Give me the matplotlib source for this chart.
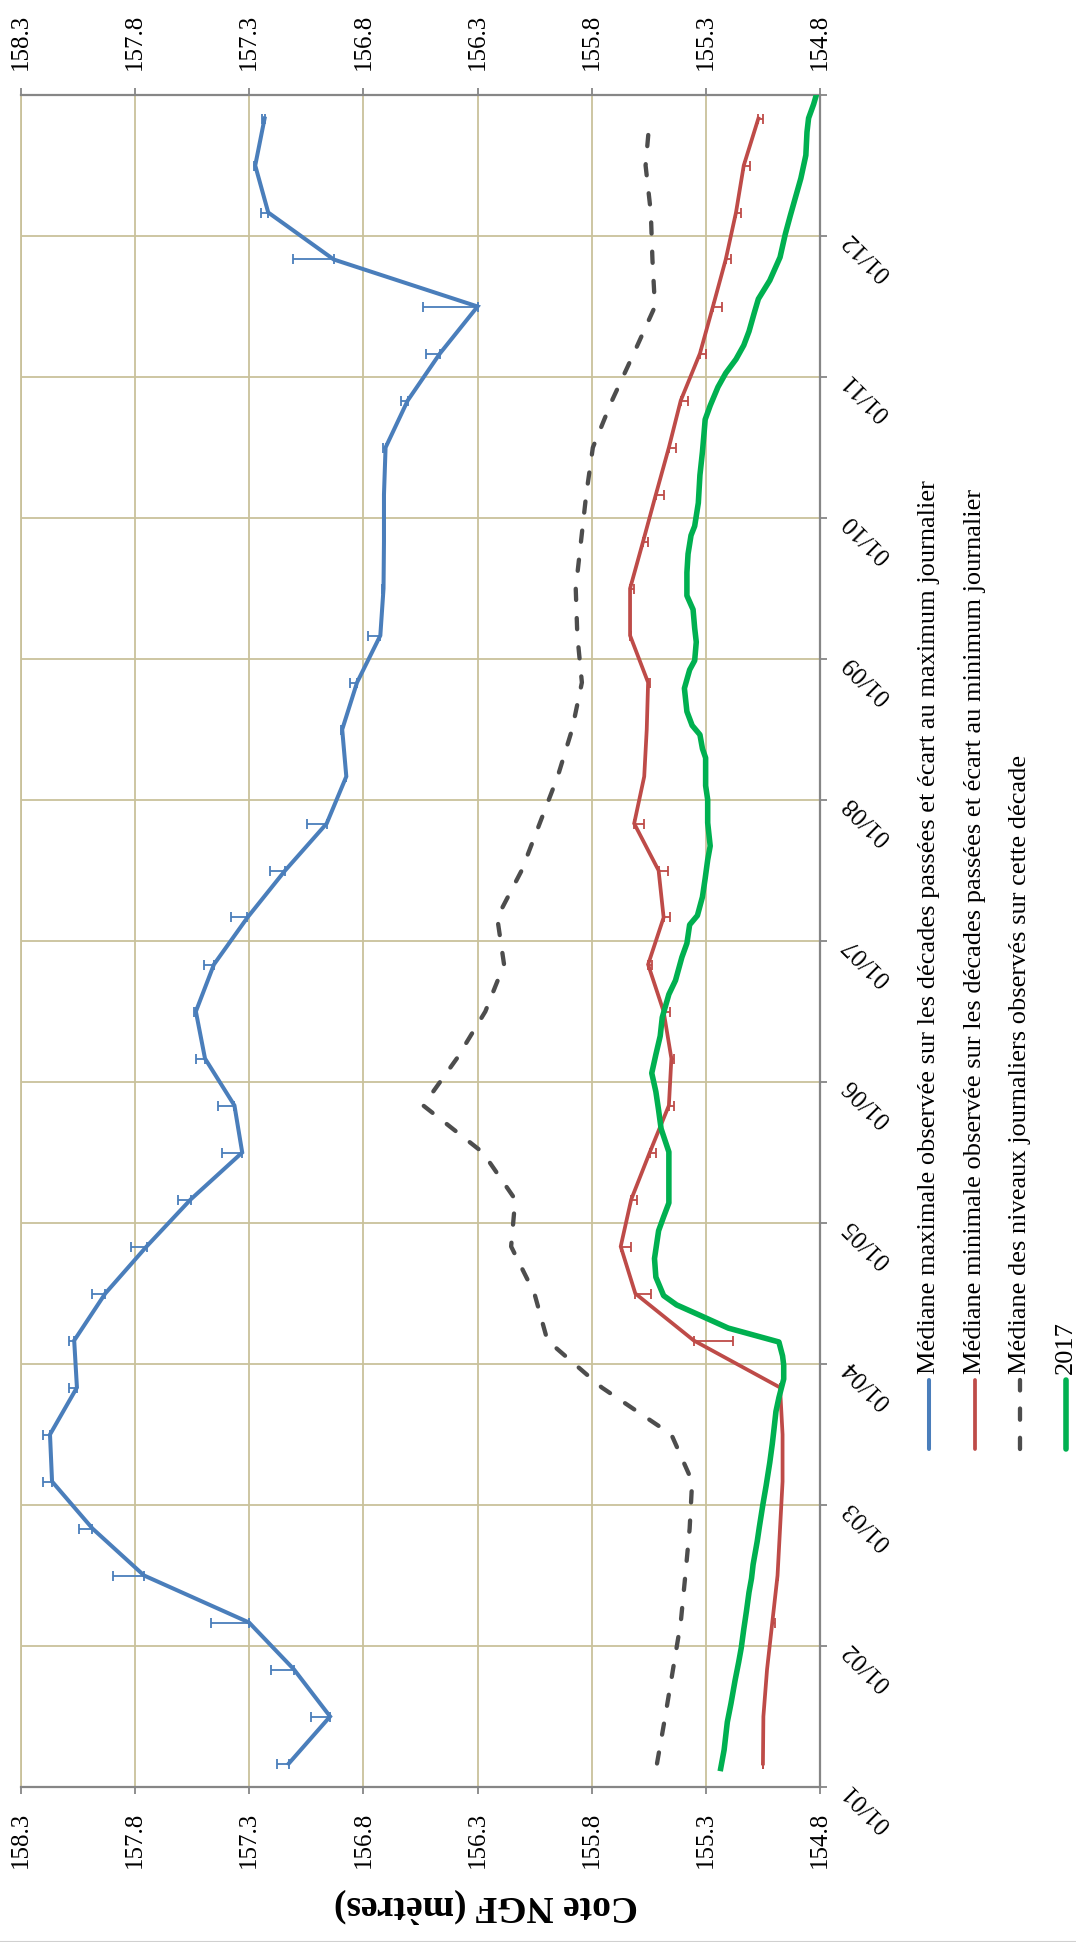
import numpy as np
import matplotlib
matplotlib.use("Agg")
import matplotlib.pyplot as plt
from matplotlib.lines import Line2D

plt.rcParams['font.family'] = ['Liberation Serif', 'DejaVu Serif']

W, H = 1076, 1942

# tick labels for the date axis (one per month)
month_labels = ['01/01', '01/02', '01/03', '01/04', '01/05', '01/06',
                '01/07', '01/08', '01/09', '01/10', '01/11', '01/12']
level_ticks = [154.8, 155.3, 155.8, 156.3, 156.8, 157.3, 157.8, 158.3]

# median of the daily maximum, per decade (36 decades)
med_max = [157.127, 156.946, 157.104, 157.301, 157.761, 157.987, 158.164, 158.173,
           158.055, 158.067, 157.931, 157.750, 157.557, 157.331, 157.365, 157.494,
           157.534, 157.455, 157.308, 157.143, 156.961, 156.875, 156.893, 156.828,
           156.726, 156.712, 156.710, 156.710, 156.703, 156.606, 156.465, 156.300,
           156.930, 157.217, 157.274, 157.233]
err_max = [0.052, 0.084, 0.10, 0.165, 0.136, 0.057, 0.04, 0.03, 0.034, 0.023, 0.057, 0.068,
           0.057, 0.09, 0.07, 0.04, 0.007, 0.045, 0.07, 0.065, 0.085, 0.0, 0.005, 0.03,
           0.055, 0.005, 0.005, 0.0, 0.01, 0.03, 0.06, 0.24, 0.18, 0.03, 0.005, 0.01]

# median of the daily minimum, per decade
med_min = [155.050, 155.048, 155.032, 155.009, 154.986, 154.975, 154.964, 154.964,
           154.975, 155.353, 155.609, 155.673, 155.627, 155.546, 155.462, 155.451,
           155.485, 155.553, 155.485, 155.507, 155.614, 155.570, 155.559, 155.553,
           155.632, 155.632, 155.575, 155.519, 155.462, 155.410, 155.326, 155.269,
           155.213, 155.168, 155.134, 155.070]
err_min = [0.0, 0.0, 0.0, 0.011, 0.0, 0.0, 0.0, 0.0, 0.0, 0.17, 0.068, 0.045,
           0.025, 0.027, 0.023, 0.011, 0.027, 0.016, 0.03, 0.04, 0.045, 0.0, 0.0, 0.01,
           0.005, 0.018, 0.023, 0.034, 0.03, 0.03, 0.027, 0.04, 0.023, 0.023, 0.027, 0.02]

# median of daily levels, per decade
med_day = [155.514, 155.478, 155.444, 155.410, 155.390, 155.371, 155.360, 155.451,
           155.756, 155.994, 156.051, 156.153, 156.135, 156.277, 156.538, 156.391,
           156.266, 156.184, 156.214, 156.107, 156.028, 155.949, 155.886, 155.843,
           155.863, 155.870, 155.847, 155.824, 155.795, 155.711, 155.616, 155.523,
           155.534, 155.541, 155.564, 155.546]

# 2017 daily levels (day of year, level)
y2017_day = [4, 8, 14, 18, 23, 27, 30, 34, 38, 42, 45, 48, 53, 56, 61, 65, 70, 74, 77, 81,
             84, 88, 91, 93, 96, 97, 99, 102, 104, 106, 110, 114, 120, 123, 126, 134, 137,
             142, 146, 150, 154, 158, 162, 166, 171, 174, 179, 182, 186, 188, 192, 196,
             200, 203, 208, 213, 216, 222, 224, 227, 229, 232, 237, 241, 243, 247, 250,
             254, 257, 262, 266, 270, 272, 277, 283, 288, 292, 295, 298, 302, 305, 308,
             311, 314, 318, 321, 325, 330, 335, 339, 343, 347, 352, 357, 360, 363, 365]
y2017_lvl = [155.235, 155.220, 155.206, 155.190, 155.172, 155.156, 155.145, 155.134,
             155.122, 155.111, 155.100, 155.093, 155.075, 155.066, 155.050, 155.036,
             155.020, 155.009, 155.002, 154.993, 154.980, 154.959, 154.959, 154.964,
             154.980, 155.054, 155.202, 155.337, 155.428, 155.485, 155.519, 155.525,
             155.507, 155.485, 155.462, 155.462, 155.462, 155.496, 155.507, 155.519,
             155.537, 155.519, 155.500, 155.491, 155.462, 155.433, 155.405, 155.383,
             155.371, 155.337, 155.315, 155.303, 155.292, 155.281, 155.292, 155.292,
             155.301, 155.301, 155.315, 155.326, 155.360, 155.383, 155.394, 155.371,
             155.349, 155.342, 155.349, 155.356, 155.383, 155.383, 155.378, 155.365,
             155.349, 155.333, 155.326, 155.315, 155.308, 155.303, 155.281, 155.247,
             155.213, 155.168, 155.134, 155.111, 155.088, 155.070, 155.020, 154.975,
             154.952, 154.930, 154.907, 154.884, 154.862, 154.857, 154.850, 154.828,
             154.816]

legend_labels = ['Médiane maximale observée sur les décades passées et écart au maximum journalier',
                 'Médiane minimale observée sur les décades passées et écart au minimum journalier',
                 'Médiane des niveaux journaliers observés sur cette décade',
                 '2017']

c_blue = '#4A7EBB'
c_red = '#BE4B48'
c_grey = '#4D4D4D'
c_green = '#00B050'
c_grid = '#C9C19B'
c_axis = '#868686'

dash = (0, (2.6, 4.2))

decade_pos = (np.arange(36) + 0.5) * 365 / 36
month_pos = np.arange(12) * 365 / 12

fig = plt.figure(figsize=(W / 100, H / 100), dpi=100)
ax = fig.add_axes([21 / W, 1 - 1787 / H, (820 - 21) / W, (1787 - 95) / H])

# chart is drawn turned: levels across, dates going up
ax.errorbar(med_max, decade_pos, xerr=[np.zeros(36), err_max], fmt='none',
            ecolor=c_blue, elinewidth=1.3, capsize=3.5, capthick=1.3, zorder=3)
ax.plot(med_max, decade_pos, color=c_blue, lw=2.9, solid_joinstyle='miter', zorder=4)
ax.errorbar(med_min, decade_pos, xerr=[err_min, np.zeros(36)], fmt='none',
            ecolor=c_red, elinewidth=1.3, capsize=3.5, capthick=1.3, zorder=3)
ax.plot(med_min, decade_pos, color=c_red, lw=2.7, solid_joinstyle='miter', zorder=4)
ax.plot(med_day, decade_pos, color=c_grey, lw=3.1, linestyle=dash,
        dash_capstyle='round', zorder=4)
ax.plot(y2017_lvl, y2017_day, color=c_green, lw=4.0, zorder=5)

ax.set_xlim(158.3, 154.8)
ax.set_ylim(0, 365)
ax.set_xticks(level_ticks, ['%.1f' % v for v in level_ticks])
ax.set_yticks(list(month_pos) + [365], month_labels + [''],
              rotation=135, rotation_mode='anchor', ha='right', va='center')

ax.grid(True, color=c_grid, lw=1.3, zorder=0)
ax.set_axisbelow(True)

ax.tick_params(axis='x', top=True, labeltop=True, bottom=True, labelbottom=True,
               direction='out', length=5, width=1.3, color=c_axis,
               labelsize=18, pad=13, labelrotation=90)
ax.tick_params(axis='y', left=False, labelleft=False, right=True, labelright=True,
               direction='out', length=5, width=1.3, color=c_axis,
               labelsize=18, pad=14)

for s in ['top', 'bottom', 'right']:
    ax.spines[s].set_color(c_axis)
    ax.spines[s].set_linewidth(1.6)
ax.spines['left'].set_color(c_grid)
ax.spines['left'].set_linewidth(1.3)

fig.text(486 / W, 1 - 1906 / H, 'Cote NGF (mètres)', rotation=180,
         fontsize=27, fontweight='bold', ha='center', va='center')

# legend, turned like the rest
leg_x = [929, 975, 1020, 1066]
leg_col = [c_blue, c_red, c_grey, c_green]
leg_ls = ['-', '-', dash, '-']
leg_lw = [2.9, 2.7, 3.1, 4.0]
for i in range(4):
    x = leg_x[i] / W
    fig.add_artist(Line2D([x, x], [1 - 1449 / H, 1 - 1380 / H], color=leg_col[i],
                          lw=leg_lw[i], linestyle=leg_ls[i], dash_capstyle='round',
                          solid_capstyle='round', transform=fig.transFigure))
    fig.text(x, 1 - 1374 / H, legend_labels[i], rotation=90, rotation_mode='anchor',
             ha='left', va='center', fontsize=19)

fig.add_artist(Line2D([0, 1], [0.5 / H, 0.5 / H], color='#D0D0D0', lw=1.5,
                      transform=fig.transFigure))

fig.savefig('out.png', dpi=100)
